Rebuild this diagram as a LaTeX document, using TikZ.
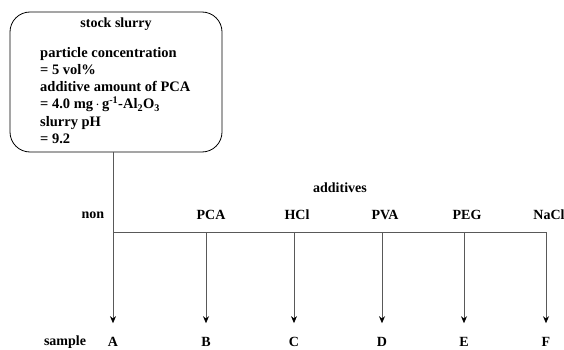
\documentclass[tikz,border=0pt]{standalone}
\usepackage{fontspec}
\setmainfont{Liberation Serif}
\usetikzlibrary{arrows.meta}
\begin{document}
\begin{tikzpicture}[x=1pt,y=-1pt,
  lbl/.style={font=\bfseries\fontsize{14}{16}\selectfont, inner sep=0pt},
  ln/.style={draw=black!65, line width=0.8pt},
  arr/.style={ln, -{Stealth[length=7pt,width=6pt,color=black]}}]
\useasboundingbox (0,0) rectangle (564,350);
\node[draw=black, line width=0.8pt, rounded corners=20pt, minimum width=212pt, minimum height=140pt, inner sep=0pt] (box) at (116,82) {};
\node[lbl] (title) at (116,24) {stock slurry};
\node[lbl, anchor=north west, align=left, font=\bfseries\fontsize{14.5}{17.2}\selectfont] (params) at (40,47) {particle concentration\\
= 5 vol\%\\
additive amount of PCA\\
= 4.0 mg\,$\cdot$\,g\textsuperscript{-1}-Al\textsubscript{2}O\textsubscript{3}\\
slurry pH\\
= 9.2};
\coordinate (j0) at (113,232);
\coordinate (jB) at (206,232);
\coordinate (jC) at (294,232);
\coordinate (jD) at (382,232);
\coordinate (jE) at (464,232);
\coordinate (jF) at (546,232);
\node[lbl] (A) at (113,342) {A};
\node[lbl] (B) at (206,342) {B};
\node[lbl] (C) at (294,342) {C};
\node[lbl] (D) at (382,342) {D};
\node[lbl] (E) at (464,342) {E};
\node[lbl] (F) at (546,342) {F};
\node[lbl] (sample) at (65,342) {sample};
\node[lbl] (non) at (93,215) {non};
\node[lbl] (pca) at (211,215) {PCA};
\node[lbl] (hcl) at (297,215) {HCl};
\node[lbl] (pva) at (385,215) {PVA};
\node[lbl] (peg) at (467,215) {PEG};
\node[lbl] (nacl) at (549,215) {NaCl};
\node[lbl] (additives) at (340,188) {additives};
\draw[arr] (box.south -| j0) -- ([yshift=14pt]A.north);
\draw[ln] (j0) -- (jF);
\foreach \j/\t in {jB/B,jC/C,jD/D,jE/E,jF/F}
  \draw[arr] (\j) -- ([yshift=14pt]\t.north);
\end{tikzpicture}
\end{document}
